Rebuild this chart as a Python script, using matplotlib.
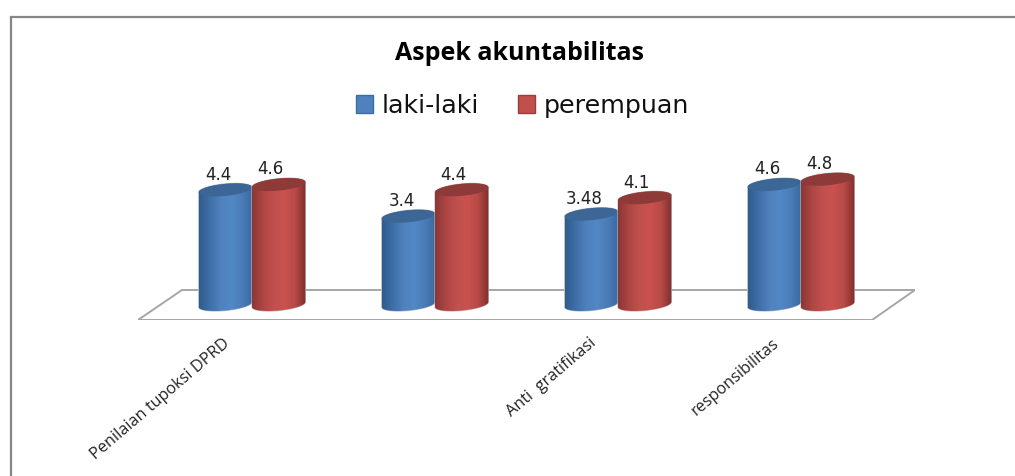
import numpy as np
import matplotlib
matplotlib.use('Agg')
import matplotlib.pyplot as plt
from matplotlib.colors import LinearSegmentedColormap
from matplotlib.lines import Line2D
from matplotlib.patches import Patch, Polygon
from matplotlib.transforms import ScaledTranslation

# Data
categories = ["Penilaian tupoksi DPRD", "", "Anti  gratifikasi", "responsibilitas"]
laki_laki = [4.4, 3.4, 3.48, 4.6]
perempuan = [4.6, 4.4, 4.1, 4.8]

W, H = 1015, 476
fig = plt.figure(figsize=(W / 100, H / 100), dpi=100, facecolor='white')

# axes box runs along the chart floor
ax = fig.add_axes([138 / W, (H - 320) / H, 777 / W, 170 / H])
ax.set_xlim(-0.623, 3.623)
ax.set_ylim(-0.53, 5.91)
ax.patch.set_alpha(0)
for s in ax.spines.values():
    s.set_visible(False)
ax.yaxis.set_visible(False)

# frame of the chart, only top and left are visible
fig.add_artist(Line2D([10.5 / W, 10.5 / W, 1], [0, 1 - 17 / H, 1 - 17 / H],
                      color='#868686', lw=1.6, solid_joinstyle='miter'))

# floor
floor = Polygon([(0, 0), (734 / 777, 0), (1, 30 / 170), (44 / 777, 30 / 170)],
                closed=True, transform=ax.transAxes, facecolor='white',
                edgecolor='#a6a6a6', lw=1.4, zorder=1)
ax.add_patch(floor)

blue_cmap = LinearSegmentedColormap.from_list('b', ['#2f5c8f', '#3f6fa8', '#4f81bd', '#5288c6', '#4a7cb8', '#3a689d'])
red_cmap = LinearSegmentedColormap.from_list('r', ['#8a3735', '#ad4644', '#c0504d', '#c9524f', '#b84a47', '#7f2f2d'])

bar_w = 0.2915
px_x = 183.0   # pixels for one category
px_y = 26.4    # pixels for one unit of value


def cylinder(x, v, cmap, cap, z):
    t = np.linspace(0, np.pi, 40)
    a = bar_w / 2
    # ellipse half height and tilt, converted from pixels to data units
    b = 6.0 / px_y
    tilt = 2.5 / px_y
    base = 1.5 / px_y
    top_x = x + a * np.cos(t)
    top_y = v + b * np.sin(t) + tilt * np.cos(t)
    low_x = x - a * np.cos(t)
    low_y = base - b * np.sin(t) - tilt * np.cos(t)
    body = np.column_stack([np.r_[top_x, low_x], np.r_[top_y, low_y]])
    outline = Polygon(body, closed=True, facecolor='none', edgecolor='#bdbdbd', lw=0.8, zorder=z)
    ax.add_patch(outline)
    im = ax.imshow(np.linspace(0, 1, 128).reshape(1, -1), cmap=cmap, aspect='auto',
                   extent=[x - a, x + a, -b * 2, v + b * 2], zorder=z + 0.1,
                   interpolation='bilinear')
    clip = Polygon(body, closed=True, transform=ax.transData, facecolor='none', edgecolor='none')
    ax.add_patch(clip)
    im.set_clip_path(clip)
    # top of the cylinder
    tt = np.linspace(0, 2 * np.pi, 80)
    ax.add_patch(Polygon(np.column_stack([x + a * np.cos(tt), v + b * np.sin(tt) + tilt * np.cos(tt)]),
                         closed=True, facecolor=cap, edgecolor='none', zorder=z + 0.2))


x_pos = np.arange(len(categories))
for i, x in enumerate(x_pos):
    cylinder(x - bar_w / 2, laki_laki[i], blue_cmap, '#3b6695', 3)
    cylinder(x + bar_w / 2, perempuan[i], red_cmap, '#8e3a38', 4)
    ax.annotate(str(laki_laki[i]), (x - bar_w / 2, laki_laki[i]), xytext=(-5, 4.5),
                textcoords='offset points', ha='center', va='bottom', fontsize=12,
                color='#222222', zorder=6)
    ax.annotate(str(perempuan[i]), (x + bar_w / 2, perempuan[i]), xytext=(-6, 4.5),
                textcoords='offset points', ha='center', va='bottom', fontsize=12,
                color='#222222', zorder=6)

ax.set_xlim(-0.623, 3.623)
ax.set_ylim(-0.53, 5.91)

# category labels, rotated and ending left of the tick
ax.set_xticks(x_pos)
ax.set_xticklabels(categories, rotation=40.5, ha='right', va='top', rotation_mode='anchor',
                   fontsize=11.7, color='#222222', family='Open Sans')
ax.tick_params(axis='x', length=0, pad=11)
shift = ScaledTranslation(-29 / 100, 0, fig.dpi_scale_trans)
for lab in ax.get_xticklabels():
    lab.set_transform(lab.get_transform() + shift)

fig.text(519.5 / W, 1 - 53 / H, 'Aspek akuntabilitas', ha='center', va='center',
         fontsize=18, fontweight='bold', family='Open Sans', color='black')

handles = [Patch(facecolor='#4f81bd', edgecolor='#3c6ca3', label='laki-laki'),
           Patch(facecolor='#c0504d', edgecolor='#9a3d3a', label='perempuan')]
fig.legend(handles=handles, loc='center', bbox_to_anchor=(522.5 / W, 1 - 106 / H), ncol=2,
           frameon=False, fontsize=18.3, handlelength=0.67, handleheight=0.67,
           handletextpad=0.32, columnspacing=1.57, labelcolor='#111111')

fig.savefig('out.png', dpi=100)
